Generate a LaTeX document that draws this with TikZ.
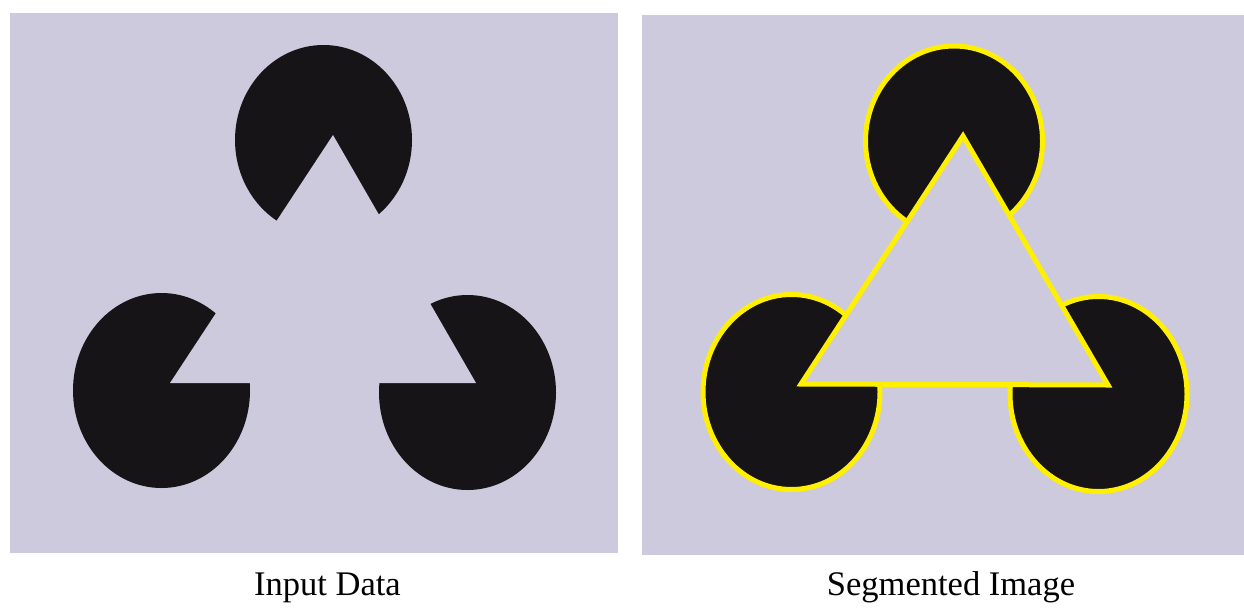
\documentclass[tikz,border=0pt]{standalone}
\usepackage{fontspec}
\setmainfont{Liberation Serif}
\usetikzlibrary{positioning}
\definecolor{bgpanel}{RGB}{206,202,222}
\definecolor{inkblack}{RGB}{22,20,22}
\definecolor{segyellow}{RGB}{255,240,0}

\begin{document}
\begin{tikzpicture}[x=1pt, y=-1pt,
    panel/.style={fill=bgpanel},
    disc/.style={fill=inkblack},
    segdisc/.style={fill=inkblack, draw=segyellow, line width=5pt},
    gap/.style={fill=bgpanel},
    seggap/.style={fill=bgpanel, draw=segyellow, line width=5pt, line join=miter},
    caption/.style={font=\fontsize{34.5}{38}\selectfont, anchor=base}]
  \useasboundingbox (0,0) rectangle (1244,608);
  \fill[white] (0,0) rectangle (1244,608);

  % left panel: input data
  \fill[panel] (10,13) rectangle (618,553);
  \coordinate (A) at (333,135);
  \coordinate (B) at (170,383);
  \coordinate (C) at (476,383);
  \fill[disc] (323.5,140) ellipse [x radius=88.5, y radius=95];
  \fill[disc] (161.5,390.5) ellipse [x radius=88.5, y radius=97.5];
  \fill[disc] (467.5,392.5) ellipse [x radius=88.5, y radius=97.5];
  \fill[gap] (A) -- (B) -- (C) -- cycle;

  % right panel: segmented image
  \begin{scope}[xshift=631pt]
    \fill[panel] (11,15) rectangle (613,555);
    \coordinate (As) at (332,136);
    \coordinate (Bs) at (170,384);
    \coordinate (Cs) at (477,385);
    \draw[segdisc] (323,141) ellipse [x radius=88.5, y radius=95];
    \draw[segdisc] (160.5,392) ellipse [x radius=88.5, y radius=97.5];
    \draw[segdisc] (467.5,394) ellipse [x radius=88.5, y radius=97.5];
    \draw[seggap] (As) -- (Bs) -- (Cs) -- cycle;
  \end{scope}

  \node[caption] (lblin) at (327.5,595) {Input Data};
  \node[caption] (lblseg) at (951,595) {Segmented Image};
\end{tikzpicture}
\end{document}
